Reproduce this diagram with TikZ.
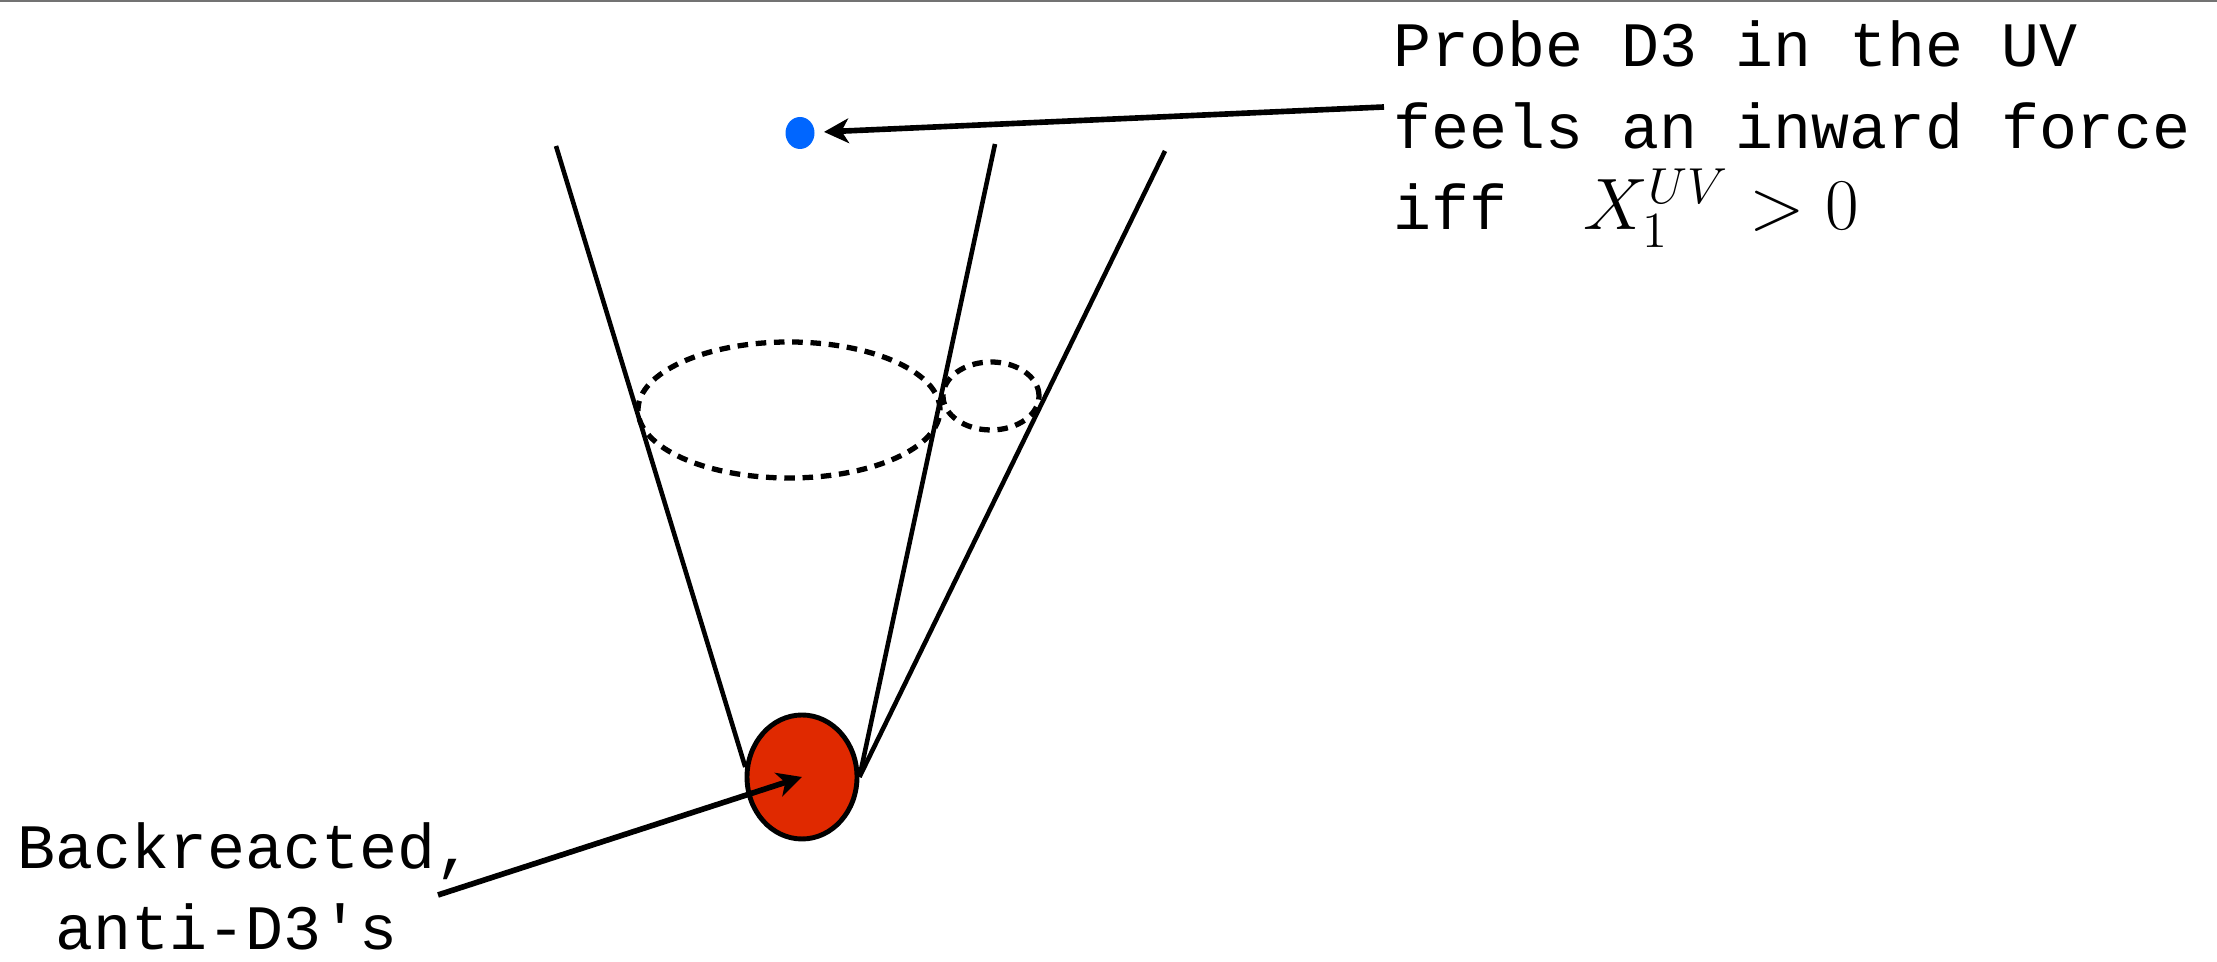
\documentclass[tikz,border=0pt]{standalone}
\usepackage{fontspec}
\newfontfamily\monofont{Liberation Mono}
\usetikzlibrary{arrows.meta,shapes.geometric}
\definecolor{ProbeClr}{rgb}{0,0.4,1}
\definecolor{AntiClr}{rgb}{0.88,0.16,0}
\definecolor{FrameClr}{rgb}{0.45,0.45,0.45}

\begin{document}
\begin{tikzpicture}[
  cone/.style={line width=1.3pt,black},
  throat/.style={line width=1.5pt,dash pattern=on 3pt off 2.2pt},
  pointer/.style={line width=1.6pt,-{Stealth[length=7pt,width=7pt,inset=2pt]}},
  lbl/.style={font=\monofont\fontsize{18}{23.3}\selectfont,align=left,inner sep=0pt}]
\useasboundingbox (0,0) rectangle (22.17,9.62);
\draw[FrameClr,line width=0.8pt] (0,9.61) -- (22.17,9.61);

% tops of the throat lines and free ends of the pointers
\coordinate (l) at (5.56,8.16);
\coordinate (m) at (9.95,8.18);
\coordinate (r) at (11.65,8.11);
\coordinate (uvtip) at (13.84,8.55);
\coordinate (irtip) at (4.38,0.67);

% throats
\draw[throat] (7.89,5.52) ellipse (1.51 and 0.68);
\draw[throat] (9.91,5.66) ellipse (0.48 and 0.34);

\node[ellipse,draw,line width=1.4pt,fill=AntiClr,minimum width=1.1cm,minimum height=1.24cm,inner sep=0pt] (anti) at (8.02,1.85) {};
\node[ellipse,fill=ProbeClr,minimum width=0.29cm,minimum height=0.32cm,inner sep=0pt] (probe) at (8.00,8.29) {};

\draw[cone] (anti.170) -- (l);
\draw[cone] (anti.east) -- (m);
\draw[cone] (anti.east) -- (r);

\node[lbl,anchor=base west] (uvtext) at (13.93,7.32) {Probe D3 in the UV\\feels an inward force\\iff\ \ {\fontsize{22}{23.3}\selectfont$X_1^{UV}>0$}};
\node[lbl,anchor=base west] (irtext) at (0.17,0.12) {Backreacted,\\\hspace*{0.6em}anti-D3's};

\draw[pointer,shorten >=2.5pt] (uvtip) -- (probe);
\draw[pointer] (irtip) -- (anti.center);

\end{tikzpicture}
\end{document}
